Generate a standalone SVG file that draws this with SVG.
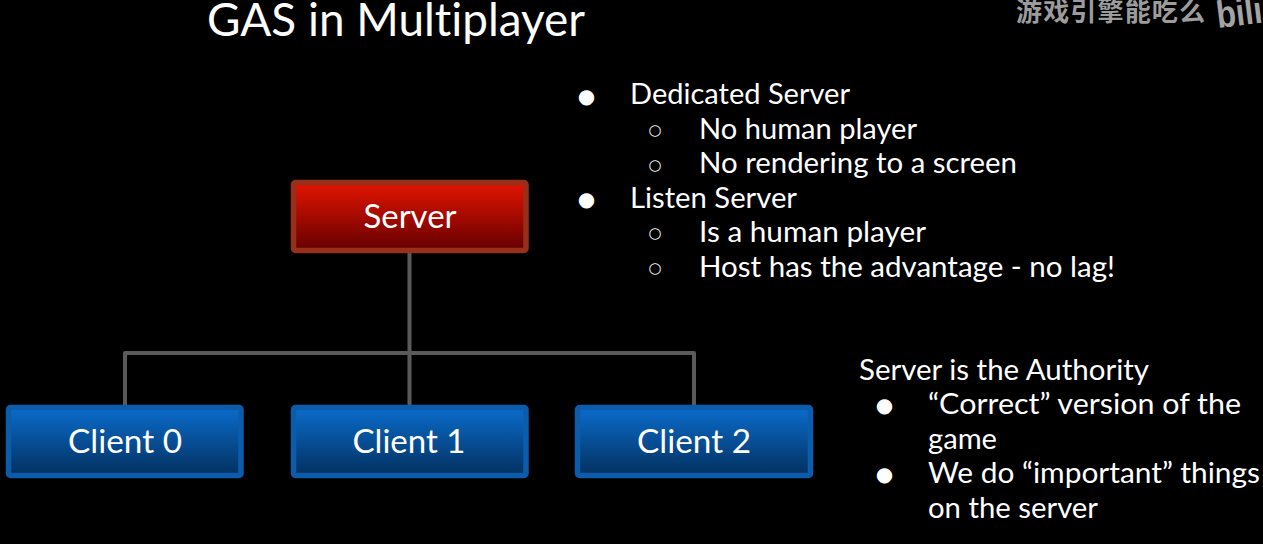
<svg xmlns="http://www.w3.org/2000/svg" width="1263" height="544" viewBox="0 0 1263 544">
<style>
text{font-family:"Lato","Open Sans","Noto Sans CJK SC",sans-serif;fill:#fff;font-variant-ligatures:none}
.b{font-size:29px}
.d{font-size:20px;text-anchor:middle;font-family:"DejaVu Sans",sans-serif}
.o{font-size:15px;text-anchor:middle;font-family:"DejaVu Sans",sans-serif}
.n{font-size:32px;text-anchor:middle}
.red{fill:url(#gr);stroke:#96301a;stroke-width:5.500}
.blue{fill:url(#gb);stroke:#0c5cac;stroke-width:5.500}
.c{fill:none;stroke:#5a5a5a;stroke-width:4;stroke-linejoin:round}
</style>
<defs>
<linearGradient id="gr" x1="0" y1="0" x2="0" y2="1"><stop offset="0" stop-color="#e41400"/><stop offset="1" stop-color="#640000"/></linearGradient>
<linearGradient id="gb" x1="0" y1="0" x2="0" y2="1"><stop offset="0" stop-color="#0a6ccc"/><stop offset="1" stop-color="#03305f"/></linearGradient>
</defs>
<rect width="1263" height="544" fill="#000"/>
<text x="207" y="36" font-size="46" textLength="378" lengthAdjust="spacingAndGlyphs">GAS in Multiplayer</text>
<text x="1016" y="21" font-size="26" style="font-family:'Noto Sans CJK SC',sans-serif;fill:#9c9c9c;font-weight:700" textLength="189">游戏引擎能吃么</text>
<text transform="translate(1218 28) rotate(-7)" font-size="38" style="font-family:'Liberation Sans',sans-serif;fill:#a4a4a4;font-weight:700" textLength="46" lengthAdjust="spacingAndGlyphs">bili</text>
<g id="connectors"><path class="c" d="M409.500 250V353M125 405V353H694V405M409.500 353V405"/></g>
<g id="server"><rect class="red" x="293.500" y="182.500" width="232.500" height="68" rx="2"/><text class="n" x="410" y="228" textLength="93" lengthAdjust="spacingAndGlyphs">Server</text></g>
<g id="client0"><rect class="blue" x="8.500" y="407.500" width="232.500" height="68" rx="2"/><text class="n" x="125" y="453" textLength="114" lengthAdjust="spacingAndGlyphs">Client 0</text></g>
<g id="client1"><rect class="blue" x="293.500" y="407.500" width="232.500" height="68" rx="2"/><text class="n" x="409" y="453" textLength="113" lengthAdjust="spacingAndGlyphs">Client 1</text></g>
<g id="client2"><rect class="blue" x="577.500" y="407.500" width="233" height="68" rx="2"/><text class="n" x="694" y="453" textLength="114" lengthAdjust="spacingAndGlyphs">Client 2</text></g>
<g id="notes-server">
<text class="d" x="586.500" y="102.500">●</text><text class="b" x="630" y="104" textLength="220" lengthAdjust="spacingAndGlyphs">Dedicated Server</text>
<text class="o" x="655" y="135">○</text><text class="b" x="699" y="139" textLength="218" lengthAdjust="spacingAndGlyphs">No human player</text>
<text class="o" x="655" y="170">○</text><text class="b" x="699" y="173" textLength="318" lengthAdjust="spacingAndGlyphs">No rendering to a screen</text>
<text class="d" x="586.500" y="206">●</text><text class="b" x="630" y="208" textLength="167" lengthAdjust="spacingAndGlyphs">Listen Server</text>
<text class="o" x="655" y="238">○</text><text class="b" x="699" y="242" textLength="227" lengthAdjust="spacingAndGlyphs">Is a human player</text>
<text class="o" x="655" y="273">○</text><text class="b" x="699" y="277" textLength="416" lengthAdjust="spacingAndGlyphs">Host has the advantage - no lag!</text>
</g>
<g id="notes-authority">
<text class="b" x="859" y="380" textLength="290" lengthAdjust="spacingAndGlyphs">Server is the Authority</text>
<text class="d" x="884.500" y="412">●</text><text class="b" x="928" y="414" textLength="313" lengthAdjust="spacingAndGlyphs">“Correct” version of the</text>
<text class="b" x="928" y="449" textLength="69" lengthAdjust="spacingAndGlyphs">game</text>
<text class="d" x="884.500" y="481">●</text><text class="b" x="928" y="483" textLength="332" lengthAdjust="spacingAndGlyphs">We do “important” things</text>
<text class="b" x="928" y="518" textLength="170" lengthAdjust="spacingAndGlyphs">on the server</text>
</g>
</svg>
